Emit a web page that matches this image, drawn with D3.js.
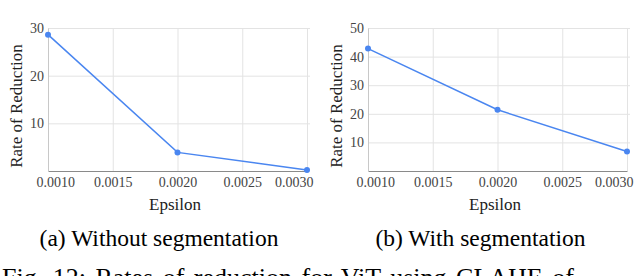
<!DOCTYPE html>
<html>
<head>
<meta charset="utf-8">
<script src="https://cdn.jsdelivr.net/npm/d3@7"></script>
</head>
<body style="margin:0; background:#fff">
<svg id="chart"></svg>
<script>
const width = 640;
const height = 276;
const serif = '"Liberation Serif"';

// values
const epsilon = [0.001, 0.002, 0.003];
const rateWithout = [28.6, 3.9, 0.2];
const rateWith = [42.8, 21.4, 6.8];
const xTicks = [0.001, 0.0015, 0.002, 0.0025, 0.003];
const yTicksWithout = [10, 20, 30];
const yTicksWith = [10, 20, 30, 40, 50];
const subCaptions = ["(a) Without segmentation", "(b) With segmentation"];
const figCaption = "Fig. 12: Rates of reduction for ViT using CLAHE of";

const lineColor = "#4a86f0";

const svg = d3.select("#chart")
    .attr("width", width)
    .attr("height", height);

// one small chart panel
function drawPanel(offsetX, values, yTicks, yMax, caption, captionX) {
    const g = svg.append("g").attr("transform", `translate(${offsetX},0)`);

    const x = d3.scaleLinear().domain([0.001, 0.003]).range([48, 307]);
    const y = d3.scaleLinear().domain([0, yMax]).range([171, 28]);

    // gridlines
    g.append("g")
        .attr("transform", "translate(0,171)")
        .call(d3.axisBottom(x).tickValues(xTicks).tickSize(-143).tickFormat(""))
        .call(a => a.select(".domain").remove())
        .call(a => a.selectAll("line").attr("stroke", "#e3e3e3"));

    g.append("g")
        .attr("transform", "translate(48,0)")
        .call(d3.axisLeft(y).tickValues(yTicks).tickSize(-262).tickFormat(""))
        .call(a => a.select(".domain").remove())
        .call(a => a.selectAll("line").attr("stroke", "#e3e3e3"));

    // axes
    g.append("g")
        .attr("transform", "translate(0,171)")
        .call(d3.axisBottom(x).tickValues(xTicks).tickSize(0).tickPadding(6).tickFormat(d3.format(".4f")))
        .call(a => a.select(".domain").attr("stroke", "#8a8a8a"))
        .call(a => a.selectAll("text")
            .style("font-family", serif)
            .style("font-size", "14px")
            .attr("fill", "#444"))
        // first and last labels are kept inside the chart box
        .call(a => a.selectAll(".tick text")
            .filter((d, i, n) => i === 0)
            .attr("text-anchor", "start").attr("x", -12))
        .call(a => a.selectAll(".tick text")
            .filter((d, i, n) => i === n.length - 1)
            .attr("text-anchor", "end").attr("x", 6));

    g.append("g")
        .attr("transform", "translate(48,0)")
        .call(d3.axisLeft(y).tickValues(yTicks).tickSize(0).tickPadding(4))
        .call(a => a.select(".domain").attr("stroke", "#c8c8c8"))
        .call(a => a.selectAll("text")
            .style("font-family", serif)
            .style("font-size", "14px")
            .attr("fill", "#444"));

    // the line and its points
    const pts = epsilon.map((e, i) => [e, values[i]]);

    g.append("path")
        .datum(pts)
        .attr("fill", "none")
        .attr("stroke", lineColor)
        .attr("stroke-width", 1.5)
        .attr("d", d3.line().x(d => x(d[0])).y(d => y(d[1])));

    g.selectAll(".pt")
        .data(pts)
        .enter().append("circle")
        .attr("class", "pt")
        .attr("cx", d => x(d[0]))
        .attr("cy", d => y(d[1]))
        .attr("r", 3)
        .attr("fill", lineColor);

    // axis titles
    g.append("text")
        .attr("transform", "translate(22,106) rotate(-90)")
        .attr("text-anchor", "middle")
        .style("font-family", serif)
        .style("font-size", "17px")
        .attr("fill", "#222")
        .text("Rate of Reduction");

    g.append("text")
        .attr("x", 175)
        .attr("y", 210)
        .attr("text-anchor", "middle")
        .style("font-family", serif)
        .style("font-size", "17px")
        .attr("fill", "#222")
        .text("Epsilon");

    // sub caption
    g.append("text")
        .attr("x", captionX)
        .attr("y", 246)
        .attr("text-anchor", "middle")
        .style("font-family", serif)
        .style("font-size", "23.5px")
        .attr("fill", "#000")
        .text(caption);
}

drawPanel(0, rateWithout, yTicksWithout, 30, subCaptions[0], 159);
drawPanel(320, rateWith, yTicksWith, 50, subCaptions[1], 160.5);

// figure caption, cut by the bottom edge as in the source
svg.append("text")
    .attr("x", 2)
    .attr("y", 286)
    .style("font-family", serif)
    .style("font-size", "26px")
    .style("word-spacing", "3px")
    .attr("fill", "#000")
    .text(figCaption);
</script>
</body>
</html>
